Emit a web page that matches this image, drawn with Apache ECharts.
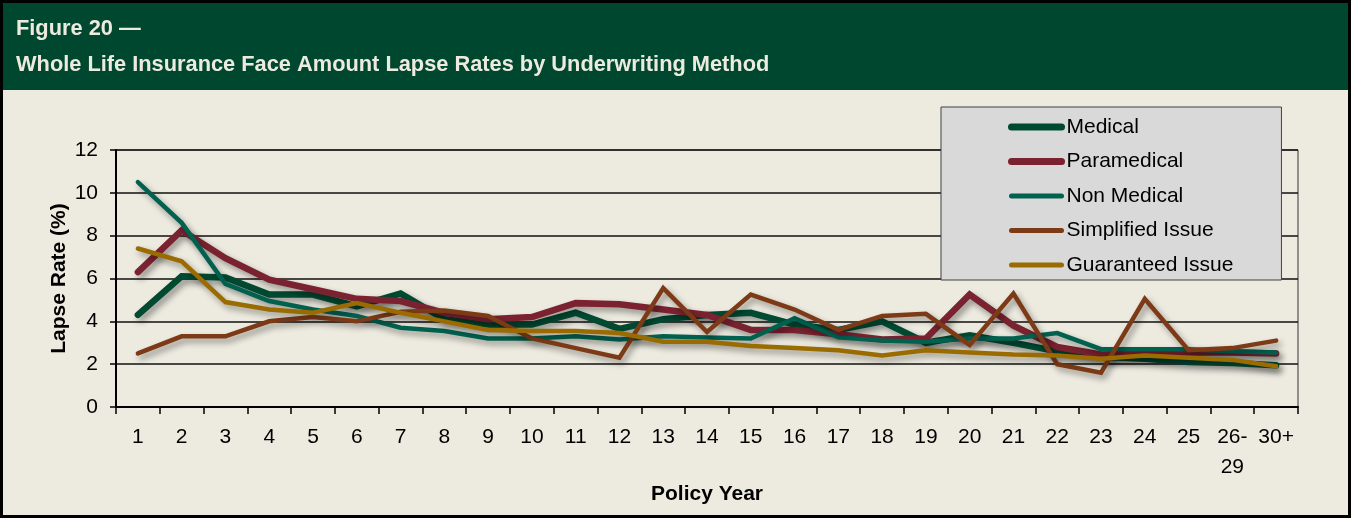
<!DOCTYPE html>
<html>
<head>
<meta charset="utf-8">
<script src="https://cdn.jsdelivr.net/npm/echarts@6/dist/echarts.min.js"></script>
<style>
html,body{margin:0;padding:0;background:#EDEBE0;}
#chart{width:1351px;height:518px;}
</style>
</head>
<body>
<div id="chart"></div>
<script>
const categories = ['1','2','3','4','5','6','7','8','9','10','11','12','13','14','15','16','17','18','19','20','21','22','23','24','25','26-\n29','30+'];
const seriesNames = ['Medical','Paramedical','Non Medical','Simplified Issue','Guaranteed Issue'];
const medical     = [4.3, 6.1, 6.05, 5.25, 5.25, 4.7, 5.3, 4.1, 3.85, 3.85, 4.4, 3.65, 4.1, 4.3, 4.4, 3.85, 3.6, 4.0, 3.0, 3.35, 3.0, 2.6, 2.35, 2.25, 2.1, 2.05, 1.95];
const paramedical = [6.3, 8.25, 6.95, 5.95, 5.5, 5.05, 4.95, 4.4, 4.1, 4.2, 4.85, 4.8, 4.55, 4.3, 3.6, 3.6, 3.4, 3.15, 3.2, 5.25, 3.8, 2.8, 2.45, 2.5, 2.55, 2.55, 2.5];
const nonMedical  = [10.5, 8.6, 5.75, 4.95, 4.55, 4.25, 3.7, 3.55, 3.2, 3.2, 3.3, 3.15, 3.3, 3.25, 3.2, 4.15, 3.25, 3.1, 3.05, 3.2, 3.2, 3.45, 2.7, 2.7, 2.7, 2.6, 2.55];
const simplified  = [2.5, 3.3, 3.3, 4.0, 4.2, 4.0, 4.45, 4.5, 4.25, 3.2, 2.75, 2.3, 5.55, 3.5, 5.25, 4.55, 3.6, 4.25, 4.35, 2.9, 5.3, 2.0, 1.6, 5.05, 2.65, 2.75, 3.1];
const guaranteed  = [7.4, 6.8, 4.9, 4.55, 4.4, 4.85, 4.4, 4.0, 3.6, 3.55, 3.55, 3.45, 3.05, 3.05, 2.85, 2.75, 2.65, 2.4, 2.65, 2.55, 2.45, 2.4, 2.25, 2.4, 2.3, 2.2, 1.9];
const yTicks = [0, 2, 4, 6, 8, 10, 12];

const allValues = [medical, paramedical, nonMedical, simplified, guaranteed];
const colors = ['#014A32', '#7B2230', '#00614F', '#7D3A16', '#9A6B00'];
const widths = [6.5, 6.5, 4.5, 4.5, 4.5];
const legendWidths = [7, 7, 5, 5, 5];

const regular = "'Liberation Sans', Arial, sans-serif";

const chart = echarts.init(document.getElementById('chart'), null, {renderer: 'canvas'});
chart.setOption({
  backgroundColor: '#EDEBE0',
  animation: false,
  graphic: [
    {type: 'rect', shape: {x: 0, y: 0, width: 1351, height: 90}, style: {fill: '#00472F'}, z: 0},
    {type: 'rect', shape: {x: 1.5, y: 1.5, width: 1348, height: 515}, style: {fill: null, stroke: '#000', lineWidth: 3}, z: 100}
  ],
  title: {
    text: 'Figure 20 —\nWhole Life Insurance Face Amount Lapse Rates by Underwriting Method',
    left: 16, top: 11, padding: 0,
    textStyle: {color: '#EDEBE0', fontFamily: regular, fontWeight: 'bold', fontSize: 21.8, lineHeight: 36}
  },
  legend: {
    orient: 'vertical',
    left: 941, top: 107,
    padding: [8, 48, 3, 67],
    backgroundColor: '#D9D9D9',
    borderColor: '#404040', borderWidth: 1,
    itemWidth: 50, itemHeight: 14, itemGap: 10.5,
    textStyle: {color: '#000', fontFamily: regular, fontSize: 21, lineHeight: 24},
    data: seriesNames.map((n, i) => ({
      name: n,
      itemStyle: {opacity: 0},
      lineStyle: {width: legendWidths[i], cap: 'round', color: colors[i]}
    }))
  },
  grid: {left: 116, right: 53, top: 150, bottom: 111, show: true, borderColor: '#333', borderWidth: 1, backgroundColor: 'transparent'},
  xAxis: {
    type: 'category', data: categories, boundaryGap: true,
    name: 'Policy Year', nameLocation: 'middle', nameGap: 77, nameMoveOverlap: false,
    nameTextStyle: {color: '#000', fontFamily: regular, fontWeight: 'bold', fontSize: 21},
    axisLine: {show: true, lineStyle: {color: '#000', width: 2}},
    axisTick: {show: true, interval: 0, length: 7, lineStyle: {color: '#000', width: 1.5}},
    axisLabel: {interval: 0, color: '#000', fontFamily: regular, fontSize: 21, lineHeight: 30, margin: 15},
    splitLine: {show: false}
  },
  yAxis: {
    type: 'value', min: yTicks[0], max: yTicks[yTicks.length - 1], interval: 2,
    name: 'Lapse Rate (%)', nameLocation: 'middle', nameGap: 46, nameMoveOverlap: false,
    nameTextStyle: {color: '#000', fontFamily: regular, fontWeight: 'bold', fontSize: 21},
    axisLine: {show: true, lineStyle: {color: '#000', width: 2}},
    axisTick: {show: true, length: 6, lineStyle: {color: '#000', width: 1.5}},
    axisLabel: {color: '#000', fontFamily: regular, fontSize: 21, margin: 18},
    splitLine: {show: true, lineStyle: {color: '#111', width: 1.6}}
  },
  series: seriesNames.map((n, i) => ({
    name: n, type: 'line', data: allValues[i],
    showSymbol: false, symbol: 'none', smooth: false,
    color: colors[i],
    lineStyle: {color: colors[i], width: widths[i], cap: 'round', join: 'miter',
      shadowColor: 'rgba(0,0,0,0.4)', shadowBlur: 6, shadowOffsetX: 3, shadowOffsetY: 4},
    z: 2 + i
  }))
});
</script>
</body>
</html>
